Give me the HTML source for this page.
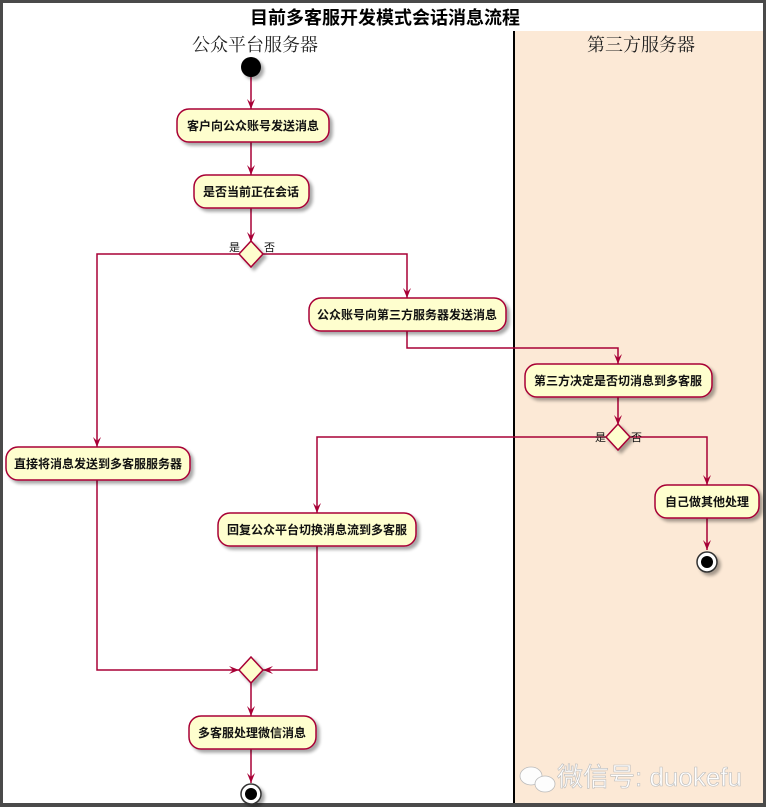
<!DOCTYPE html>
<html><head><meta charset="utf-8"><style>
html,body{margin:0;padding:0;width:766px;height:807px;overflow:hidden;background:#4a4a4a}
svg{display:block}
text{font-family:"Liberation Sans","Noto Sans CJK SC",sans-serif}
</style></head><body>
<svg width="766" height="807" viewBox="0 0 766 807" xmlns="http://www.w3.org/2000/svg">
<defs>
<filter id="sh" x="-20%" y="-30%" width="150%" height="180%"><feGaussianBlur in="SourceAlpha" stdDeviation="1.5"/><feOffset dx="3" dy="3"/><feComponentTransfer><feFuncA type="linear" slope="0.35"/></feComponentTransfer><feMerge><feMergeNode/><feMergeNode in="SourceGraphic"/></feMerge></filter>
</defs>
<rect x="3" y="3" width="760" height="800" fill="#fff"/>
<rect x="515" y="31" width="248" height="772" fill="#FCE9D6"/>
<line x1="514" y1="31" x2="514" y2="803" stroke="#000" stroke-width="2"/>
<text x="385" y="24" font-size="18" font-weight="bold" text-anchor="middle" fill="#000">目前多客服开发模式会话消息流程</text>
<text x="255" y="51" font-size="18" text-anchor="middle" fill="#222" style="font-family:'Liberation Serif','Noto Serif CJK SC',serif">公众平台服务器</text>
<text x="641" y="51" font-size="18" text-anchor="middle" fill="#222" style="font-family:'Liberation Serif','Noto Serif CJK SC',serif">第三方服务器</text>

<g stroke="#A80036" stroke-width="1.5" fill="none">
<path d="M251 77V109"/>
<path d="M251 142V175"/>
<path d="M251 208V242"/>
<path d="M239 254H97V447"/>
<path d="M263 254H407V298"/>
<path d="M407 331V348H618V364"/>
<path d="M618 397V425"/>
<path d="M606 437H317V513"/>
<path d="M630 437H707V485"/>
<path d="M707 518V550"/>
<path d="M97 480V670H239"/>
<path d="M317 546V670H263"/>
<path d="M251 682V716"/>
<path d="M251 749V783"/>
</g>
<g fill="#A80036">
<polygon points="251,109 247,99 251,103 255,99"/>
<polygon points="251,175 247,165 251,169 255,165"/>
<polygon points="251,242 247,232 251,236 255,232"/>
<polygon points="97,447 93,437 97,441 101,437"/>
<polygon points="407,298 403,288 407,292 411,288"/>
<polygon points="618,364 614,354 618,358 622,354"/>
<polygon points="618,425 614,415 618,419 622,415"/>
<polygon points="317,513 313,503 317,507 321,503"/>
<polygon points="707,485 703,475 707,479 711,475"/>
<polygon points="707,550 703,540 707,544 711,540"/>
<polygon points="239,670 229,666 233,670 229,674"/>
<polygon points="263,670 273,666 269,670 273,674"/>
<polygon points="251,716 247,706 251,710 255,706"/>
<polygon points="251,783 247,773 251,777 255,773"/>
</g>

<g fill="#FEFECE" stroke="#A80036" stroke-width="1.5" filter="url(#sh)">
<rect x="177" y="109" width="152" height="33" rx="12"/>
<rect x="194" y="175" width="115" height="33" rx="12"/>
<rect x="309" y="298" width="197" height="33" rx="12"/>
<rect x="525" y="364" width="187" height="33" rx="12"/>
<rect x="6" y="447" width="184" height="33" rx="12"/>
<rect x="218" y="513" width="198" height="33" rx="12"/>
<rect x="655" y="485" width="104" height="33" rx="12"/>
<rect x="189" y="716" width="127" height="33" rx="12"/>
<polygon points="251,241 263,254 251,267 239,254"/>
<polygon points="618,424 630,437 618,450 606,437"/>
<polygon points="251,657 263,670 251,683 239,670"/>
</g>
<g font-size="12" font-weight="bold" fill="#111" text-anchor="middle">
<text x="253" y="130">客户向公众账号发送消息</text>
<text x="251" y="196">是否当前正在会话</text>
<text x="407" y="319">公众账号向第三方服务器发送消息</text>
<text x="618" y="385">第三方决定是否切消息到多客服</text>
<text x="98" y="468">直接将消息发送到多客服服务器</text>
<text x="317" y="534">回复公众平台切换消息流到多客服</text>
<text x="707" y="506">自己做其他处理</text>
<text x="252" y="737">多客服处理微信消息</text>
</g>
<g font-size="11" fill="#111">
<text x="229" y="251">是</text><text x="264" y="251">否</text>
<text x="595" y="441">是</text><text x="631" y="441">否</text>
</g>
<g filter="url(#sh)">
<circle cx="251" cy="67" r="10" fill="#000"/>
<circle cx="707" cy="562" r="10" fill="#fff" stroke="#333" stroke-width="1.5"/>
<circle cx="707" cy="562" r="6" fill="#000"/>
<circle cx="251" cy="794" r="10" fill="#fff" stroke="#333" stroke-width="1.5"/>
<circle cx="251" cy="794" r="6" fill="#000"/>
</g>
<g fill="#fdfdfd" stroke="#bbb" stroke-width="0.8">
<ellipse cx="531" cy="776" rx="11" ry="9"/>
<ellipse cx="545" cy="784" rx="10" ry="8"/>
</g>
<text x="557" y="786" font-size="26" fill="#fdfdfd" stroke="#bbb" stroke-width="0.6">微信号: duokefu</text>
</svg>
</body></html>
